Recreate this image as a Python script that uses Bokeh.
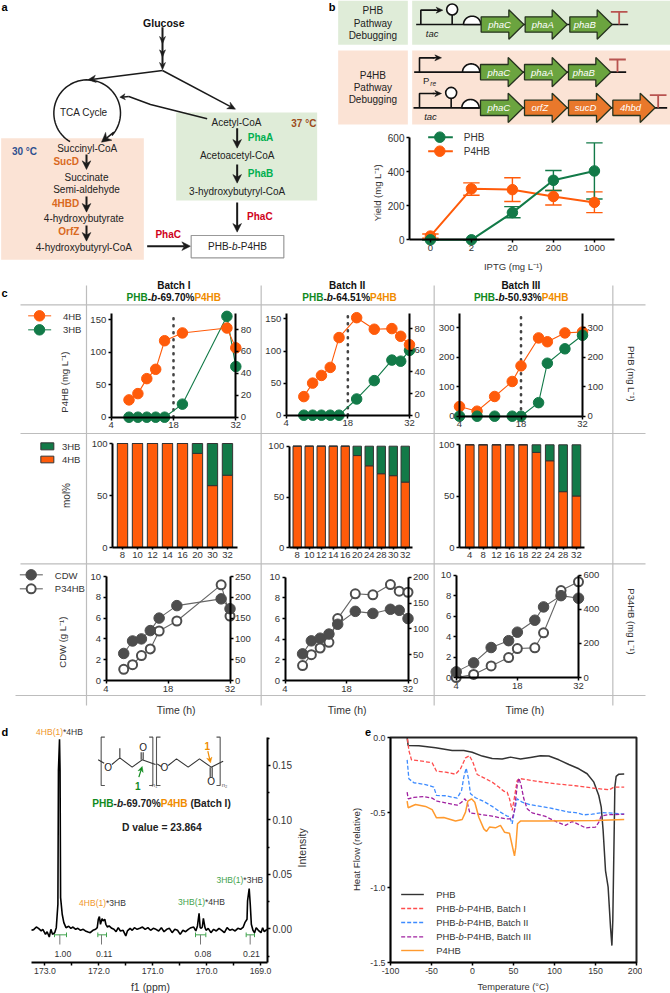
import numpy as np
from bokeh.plotting import figure
from bokeh.models import Range1d, LinearAxis, FixedTicker
from bokeh.core.properties import value
from bokeh.embed import file_html
from bokeh.resources import INLINE

FONT = "Liberation Sans"
ORANGE, GREEN = "#FF5B0A", "#127A48"
TXT_GREEN, TXT_ORANGE = "#118A1E", "#F08C00"

# ---------- panel b: yield vs IPTG ----------
iptg_labels = ["0", "2", "20", "200", "1000"]
phb_yield = [0, 0, 160, 350, 405]
phb_low = [0, 0, 130, 290, 240]
phb_high = [0, 0, 195, 408, 570]
p4hb_yield = [22, 300, 295, 255, 220]
p4hb_low = [10, 262, 225, 205, 160]
p4hb_high = [34, 335, 365, 290, 282]

# ---------- panel c: time courses ----------
b1_hours = [8, 10, 12, 14, 16, 20, 30, 32]
b1_4hb = [26.7, 36.4, 59.5, 73.9, 118, 130, 137.6, 107]
b1_3hb = [0, 0, 0, 0, 0, 11.9, 92, 46.2]
b1_mol4 = [100, 100, 100, 100, 100, 90.5, 59.5, 69.5]
b1_cdw = [2.6, 3.8, 4.0, 4.8, 6.0, 7.2, 7.85, 6.9]
b1_p34 = [27, 38, 60, 76, 119, 143, 230, 155]

b2_hours = [8, 10, 12, 14, 16, 20, 24, 28, 30, 32]
b2_4hb = [29, 50, 62, 74.5, 121, 152, 134, 135, 123, 110]
b2_3hb = [0, 0, 0, 0, 0, 15, 32, 51, 50, 60]
b2_mol4 = [100, 100, 100, 100, 100, 90.8, 80.7, 72.9, 71, 64.7]
b2_cdw = [2.58, 3.84, 4.1, 4.5, 5.45, 6.7, 6.5, 6.9, 6.8, 6.0]
b2_p34 = [29, 50, 63, 74, 120, 168, 166, 186, 173, 171]

b3_hours = [4, 8, 12, 16, 18, 22, 24, 28, 32]
b3_4hb = [33, 17, 67, 118, 171, 266, 253, 283, 286]
b3_3hb = [0, 0, 0, 0, 0, 46, 180, 229, 275]
b3_mol4 = [100, 100, 100, 100, 100, 92.6, 84.5, 54.5, 50.3]
b3_cdw = [0.55, 1.43, 2.93, 3.6, 4.43, 5.6, 6.9, 8.0, 7.75]
b3_p34 = [0, 18, 68, 117, 170, 174, 262, 510, 561]

# ---------- panel d: 13C NMR carbonyl region ----------
nmr_ppm = [173.25, 173.21, 173.16, 173.12, 173.07, 173.04, 172.99, 172.96, 172.92, 172.89, 172.86, 172.82, 172.79,
           172.76, 172.75, 172.73, 172.72, 172.71, 172.68, 172.65, 172.61, 172.56, 172.52, 172.48, 172.43, 172.39,
           172.34, 172.29, 172.25, 172.2, 172.16, 172.11, 172.06, 172.03, 172.01, 171.99, 171.97, 171.94, 171.92,
           171.89, 171.87, 171.84, 171.81, 171.76, 171.72, 171.68, 171.64, 171.6, 171.55, 171.5, 171.47, 171.42,
           171.38, 171.34, 171.29, 171.24, 171.19, 171.14, 171.09, 171.04, 170.99, 170.94, 170.89, 170.84, 170.79,
           170.74, 170.69, 170.64, 170.59, 170.54, 170.49, 170.44, 170.39, 170.34, 170.29, 170.24, 170.2, 170.17,
           170.14, 170.12, 170.1, 170.08, 170.06, 170.03, 170.01, 169.97, 169.92, 169.87, 169.82, 169.77, 169.72,
           169.67, 169.62, 169.57, 169.52, 169.47, 169.42, 169.37, 169.32, 169.29, 169.25, 169.24, 169.21, 169.19,
           169.17, 169.14, 169.11, 169.08, 169.04, 168.99, 168.96, 168.93, 168.88]
nmr_int = [-.0012, -.0006, .0018, .0006, -.0018, -.0003, -.0049, -.0025, -.0074, -.0003, -.0049, -.0034, .0012,
           .0227, .1454, .1739, .1454, .0288, .0135, .0058, .0012, .0025, .0006, .0018, -.0003, .0006,
           -.0012, -.0003, -.0018, -.0028, -.0034, -.0012, -.0003, .0012, .0089, .0113, .0043, .0095, .0074,
           .0089, .0043, .0018, .0028, .0006, -.0003, -.0025, .0012, -.0018, -.0012, -.0064, -.0018, .0006,
           -.0012, .0012, -.0003, .0006, .0018, -.0003, .0012, -.0012, .0006, -.0003, -.0018, .0012, -.0025,
           -.0003, .0006, -.0034, -.0003, -.0012, -.0049, -.0012, -.0025, -.0003, .0012, .0018, -.0018, .0028,
           .0144, .0012, .0006, .0018, .0098, .0012, -.0012, .0006, -.0034, -.0003, -.0018, .0006, -.0012,
           -.0034, .0012, -.0012, -.0003, -.0018, .0006, -.0003, .0018, .0058, .0089, .0258, .0371, .0227,
           .0043, -.0012, -.0034, .0012, -.0012, -.0034, .0012, -.0025, -.0003]

# ---------- panel e: DSC ----------
phb_t = [-79.7, -78.5, -65.4, -45, -24.8, -10.6, -0.4, 11.8, 24, 36.2, 46.3, 58.5, 70.7, 82.9, 93, 105.3, 117.5, 129.7,
         139.8, 148, 154, 157, 159.3, 162.2, 165.4, 168.3, 170, 171.1, 172.8, 173.6, 175.2, 178.5, 185]
phb_h = [0, -.051, -.053, -.067, -.085, -.085, -.096, -.122, -.138, -.142, -.129, -.142, -.131, -.12, -.122, -.147,
         -.178, -.207, -.24, -.296, -.385, -.463, -.619, -.886, -.997, -1.264, -1.387, -1.22, -.619, -.329, -.258,
         -.243, -.241]
b1_t = [-79.3, -77.6, -74.4, -61.4, -49.2, -43.9, -32.9, -20.7, -14.6, -8.5, -3.7, 0.4, 5.7, 13.8, 24, 32.1, 38.2, 42.3,
        45.1, 48.4, 51.2, 54.5, 57.3, 76.8, 101.2, 125.6, 150, 167, 172.4, 185]
b1_h = [-.007, -.085, -.147, -.156, -.167, -.223, -.229, -.243, -.207, -.134, -.12, -.162, -.245, -.267, -.296, -.329,
        -.356, -.363, -.407, -.485, -.396, -.285, -.272, -.289, -.307, -.32, -.338, -.347, -.329, -.329]
b2_t = [-79.7, -77.6, -71.5, -57.3, -47.2, -43.9, -32.9, -18.7, -13.4, -10.6, -7.7, -5.3, -2.4, 3.7, 13.8, 24, 34.1,
        42.3, 45.1, 48.4, 51.2, 54.5, 60.6, 70.7, 93.1, 117.5, 125.6, 135.8, 145.9, 158.1, 170.3, 185]
b2_h = [-.147, -.274, -.3, -.312, -.329, -.385, -.387, -.403, -.352, -.263, -.203, -.263, -.374, -.4, -.425, -.458,
        -.496, -.523, -.525, -.574, -.485, -.407, -.43, -.447, -.467, -.496, -.499, -.514, -.51, -.499, -.503, -.51]
b3_t = [-79.7, -78.5, -71.5, -59.3, -49.2, -43.1, -32.9, -18.7, -13.4, -9.3, -6.5, -3.3, 7.7, 24, 40.2, 48.4, 51.2, 54.5,
        56.5, 59.3, 62.6, 66.7, 72.8, 89, 103.3, 113.4, 121.5, 129.7, 137.8, 150, 154.1, 156.9, 164.2, 185]
b3_h = [-.363, -.407, -.398, -.392, -.403, -.423, -.434, -.45, -.43, -.407, -.43, -.501, -.51, -.523, -.541, -.541,
        -.485, -.318, -.269, -.318, -.407, -.474, -.501, -.525, -.563, -.585, -.559, -.579, -.601, -.596, -.563, -.523,
        -.514, -.51]
p4_t = [-79.7, -78.5, -69.5, -57.3, -49.2, -43.9, -35, -20.7, -12.6, -8.5, -5.7, -1.2, 2.8, 7.7, 13.8, 17.1, 20.7, 28,
        34.1, 39, 45.1, 48.4, 51.2, 52.8, 54.9, 58.5, 85, 117.5, 150, 185]
p4_h = [-.423, -.467, -.445, -.458, -.479, -.534, -.532, -.556, -.545, -.496, -.423, -.407, -.43, -.53, -.608, -.625,
        -.596, -.601, -.585, -.63, -.637, -.719, -.788, -.73, -.574, -.556, -.556, -.554, -.552, -.545]

# ---------- background canvas, coordinates = page px x 3 ----------
bg = figure(width=670, height=993, x_range=Range1d(0, 2010), y_range=Range1d(2979, 0), output_backend="svg",
            toolbar_location=None, title=None, min_border=0, x_axis_type=None, y_axis_type=None,
            outline_line_color=None, sizing_mode="fixed", styles={"position": "absolute", "left": "0px", "top": "0px"})
bg.grid.visible = False


def T(x, y, s, size=10, color="#222222", align="center", style="normal", angle=0):
    bg.text([x], [y], text=[s], text_font=value(FONT), text_font_size=f"{size}px", text_color=color,
            text_align=align, text_baseline="middle", text_font_style=style, angle=angle)


REG = {"P": .667, "H": .722, "B": .667, "-": .333, "b": .556, ",": .278, " ": .278, "a": .556, "t": .278, "c": .5,
       "h": .556, "I": .278, "(": .333, ")": .333, "*": .389, ".": .278}
BOLD = {"P": .667, "H": .722, "B": .722, "-": .333, "b": .611, " ": .278, "a": .556, "t": .333, "c": .556, "h": .611,
        "I": .278, "(": .333, ")": .333, ".": .278, "%": .889}


def runs(xc, y, parts, size):
    def w(s, st):
        tab = BOLD if "bold" in st else REG
        return sum(tab.get(c, .556) for c in s) * size * 3
    x = xc - sum(w(s, st) for s, c, st in parts) / 2
    for s, c, st in parts:
        if s.strip():
            T(x, y, s, size, c, "left", st)
        x += w(s, st)


def L(xs, ys, color="#1a1a1a", width=1.5, dash="solid"):
    bg.line(xs, ys, line_color=color, line_width=width, line_dash=dash)


def R(x0, y0, x1, y1, fill, line=None, width=1):
    bg.quad(left=[x0], right=[x1], top=[y0], bottom=[y1], fill_color=fill, line_color=line, line_width=width)


def A(x0, y0, x1, y1, hl=26, hw=13, width=2, color="#1a1a1a"):
    d = np.hypot(x1 - x0, y1 - y0)
    ux, uy = (x1 - x0) / d, (y1 - y0) / d
    bx, by = x1 - ux * hl, y1 - uy * hl
    nx, ny = bx + ux * hl * .3, by + uy * hl * .3
    L([x0, nx], [y0, ny], color, width)
    bg.patch([x1, bx - uy * hw, nx, bx + uy * hw], [y1, by + ux * hw, ny, by - ux * hw], fill_color=color,
             line_color=color, line_width=.5)


# panel a
R(527, 336, 950, 600, "#DFECD8")
R(2, 413, 430, 778, "#FBE3D5")
T(3, 20, "a", 11, "#000000", "left", "bold")
T(490, 66, "Glucose", 10.5, "#111111", style="bold")
A(486, 80, 486, 130, 22, 9)
A(486, 120, 486, 170, 22, 9)
A(486, 160, 486, 208, 22, 9)
A(486, 210, 262, 238, 24, 11, 1.5)
A(486, 210, 705, 326, 24, 11, 1.5)
L([620, 450, 385], [355, 312, 288])
A(385, 288, 358, 290, 16, 9, 1.5)
th = np.deg2rad(np.linspace(121, 402, 60))
L(260 + 100 * np.cos(th), 338 + 100 * np.sin(th))
A(340, 395, 303, 425, 28, 15, 1.5)
T(250, 336, "TCA Cycle")
for x, y, s in [(260, 444, "Succinyl-CoA"), (258, 530, "Succinate"), (258, 567, "Semi-aldehyde"),
                (250, 654, "4-hydroxybutyrate"), (250, 740, "4-hydroxybutyryl-CoA"), (708, 365, "Acetyl-CoA"),
                (710, 464, "Acetoacetyl-CoA"), (710, 572, "3-hydroxybutyryl-CoA")]:
    T(x, y, s)
for x, y, s in [(197, 484, "SucD"), (195, 608, "4HBD"), (205, 693, "OrfZ")]:
    T(x, y, s, 10, "#D9691E", style="bold")
for x, y, s in [(780, 412, "PhaA"), (780, 520, "PhaB")]:
    T(x, y, s, 10, "#00B050", style="bold")
for x, y in [(503, 701), (778, 648)]:
    T(x, y, "PhaC", 10, "#D0021B", style="bold")
T(910, 370, "37 °C", 10, "#9C4A1A", style="bold")
T(72, 452, "30 °C", 10, "#2F4F8F", style="bold")
for x, y0, y1 in [(258, 462, 507), (258, 588, 635), (258, 675, 722), (710, 383, 443), (710, 492, 548), (710, 606, 695)]:
    A(x, y0, x, y1)
A(440, 737, 570, 737)
R(572, 705, 850, 772, "#FFFFFF", "#999999", 1.2)
runs(711, 739, [("PHB-", "#222222", "normal"), ("b", "#222222", "italic"), ("-P4HB", "#222222", "normal")], 10)

# panel b schematic
OX = 1005
T(985, 20, "b", 11, "#000000", "left", "bold")
R(OX + 8, 0, OX + 217, 133, "#DFECD8")
R(OX + 230, 0, 2010, 133, "#DFECD8")
R(OX + 8, 150, OX + 217, 372, "#FBE3D5")
R(OX + 230, 150, 2010, 372, "#FBE3D5")
for y, s in [(30, "PHB"), (68, "Pathway"), (105, "Debugging"), (225, "P4HB"), (262, "Pathway"), (298, "Debugging")]:
    T(OX + 112, y, s)


def gene(x0, x1, yc, fill, s, xl):
    xs = np.array([x0, x1 - 45, x1 - 45, x1, x1 - 45, x1 - 45, x0]) + OX
    ys = np.array([-23, -23, -44, 0, 44, 23, 23]) + yc
    bg.patch(xs, ys, fill_color=fill, line_color="#26331f", line_width=1.3)
    T(OX + xl, yc, s, 9.5, "#FFFFFF", style="italic")


def construct(y, xa, xb, xp, xrbs, xt, genes, lolly=None):
    L([OX + xa, OX + xb], [y, y], "#111111", 1.6)
    L([OX + xp, OX + xp, OX + xp + 45], [y, y - 43, y - 43], "#111111", 1.6)
    A(OX + xp + 40, y - 43, OX + xp + 66, y - 43, 20, 9, 1.5, "#111111")
    if lolly:
        L([OX + lolly, OX + lolly], [y, y - 30], "#111111", 1.6)
        bg.scatter([OX + lolly], [y - 45], size=11, fill_color="#FFFFFF", line_color="#111111", line_width=1.6)
    a = np.linspace(np.pi, 2 * np.pi, 30)
    bg.patch(OX + xrbs + 26 * np.cos(a), y + 25 * np.sin(a), fill_color="#FFFFFF", line_color="#111111", line_width=1.6)
    for g in genes:
        gene(*g[:2], y, g[2], g[3], g[4])
    L([OX + xt, OX + xt], [y, y - 38], "#B85450", 1.8)
    L([OX + xt - 25, OX + xt + 25], [y - 38, y - 38], "#B85450", 1.8)


G, O = "#6BA43F", "#E9782B"
construct(72, 242, 878, 256, 410, 851, [(437, 565, G, "phaC", 492), (569, 695, G, "phaA", 622), (703, 830, G, "phaB", 748)], 350)
construct(215, 236, 872, 252, 407, 846, [(435, 563, G, "phaC", 490), (567, 695, G, "phaA", 620), (699, 826, G, "phaB", 745)])
construct(322, 234, 995, 252, 405, 968, [(435, 563, G, "phaC", 490), (567, 695, O, "orfZ", 613), (699, 828, O, "sucD", 750), (832, 959, O, "4hbd", 885)], 347)
T(OX + 290, 98, "tac", 9.5, "#222222", style="italic")
T(OX + 285, 348, "tac", 9.5, "#222222", style="italic")
T(OX + 272, 240, "P", 9.5)
T(OX + 293, 250, "re", 6.5, "#222222", style="italic")

# panel b legend and labels
L([OX + 278, OX + 352], [410, 410], GREEN, 2)
L([OX + 278, OX + 352], [452, 452], ORANGE, 2)
bg.scatter([OX + 313], [410], size=10.5, fill_color=GREEN, line_color=GREEN)
bg.scatter([OX + 313], [452], size=10.5, fill_color=ORANGE, line_color=ORANGE)
T(OX + 385, 410, "PHB", 10, "#333333", "left")
T(OX + 385, 452, "P4HB", 10, "#333333", "left")
T(OX + 533, 798, "IPTG (mg L⁻¹)", 9.5, "#333333")
T(OX + 125, 577, "Yield (mg L⁻¹)", 9.5, "#333333", angle=np.pi / 2)

# panel c grid and labels
GR = "#BDBDBD"
T(3, 876, "c", 11, "#000000", "left", "bold")
for y, x0, x1 in [(913, 60, 1935), (1299, 60, 1935), (1690, 60, 1935), (2085, 45, 1935)]:
    L([x0, x1], [y, y], GR, 1.2)
for x in [258, 782, 1301, 1837]:
    L([x, x], [855, 2115], GR, 1.2)
for xc, s, xc2, pct in [(520, "Batch I", 520, "69.70%"), (1040, "Batch II", 1047, "64.51%"), (1561, "Batch III", 1562, "50.93%")]:
    T(xc, 855, s, 10, "#111111", style="bold")
    runs(xc2, 892, [("PHB", TXT_GREEN, "bold"), ("-", "#111111", "bold"), ("b", "#111111", "bold italic"),
                    ("-" + pct, "#111111", "bold"), ("P4HB", TXT_ORANGE, "bold")], 10)
L([83, 152], [946, 946], ORANGE, 1)
L([83, 152], [988, 988], GREEN, 1)
bg.scatter([117], [946], size=10.5, fill_color=ORANGE, line_color=ORANGE)
bg.scatter([117], [988], size=10.5, fill_color=GREEN, line_color=GREEN)
T(215, 948, "4HB", 9.5, "#333333")
T(215, 988, "3HB", 9.5, "#333333")
T(192, 1145, "P4HB (mg L⁻¹)", 9.5, "#333333", angle=np.pi / 2)
T(1893, 1120, "PHB (mg L⁻¹)", 9.5, "#333333", angle=-np.pi / 2)
R(121, 1327, 160, 1348, GREEN, "#333333", 1)
R(121, 1367, 160, 1387, ORANGE, "#333333", 1)
T(212, 1338, "3HB", 9.5, "#333333")
T(212, 1376, "4HB", 9.5, "#333333")
T(197, 1485, "mol%", 10, "#333333", angle=np.pi / 2)
L([58, 127], [1723, 1723], "#555555", 1)
L([58, 127], [1765, 1765], "#555555", 1)
bg.scatter([92], [1723], size=10.5, fill_color="#4D4D4D", line_color="#4D4D4D")
bg.scatter([92], [1765], size=9, fill_color="#FFFFFF", line_color="#4D4D4D", line_width=2)
T(163, 1725, "CDW", 9.5, "#333333", "left")
T(163, 1765, "P34HB", 9.5, "#333333", "left")
T(187, 1925, "CDW (g L⁻¹)", 9.5, "#333333", angle=np.pi / 2)
T(1893, 1863, "P34HB (mg L⁻¹)", 9.5, "#333333", angle=-np.pi / 2)
for x in [527, 1040, 1573]:
    T(x, 2128, "Time (h)", 10.5, "#333333")

# panel d annotation
Y7 = 2010
T(3, Y7 + 185, "d", 11, "#000000", "left", "bold")
DO, DG = "#F0962A", "#3FA34D"
for xc, y, c, a, b in [(177, 183, DO, "4HB(1)", "*4HB"), (306, 698, DO, "4HB(1)", "*3HB"),
                       (603, 695, DG, "3HB(1)", "*4HB"), (718, 627, DG, "3HB(1)", "*3HB")]:
    runs(xc, Y7 + y, [(a, c, "normal"), (b, "#333333", "normal")], 8.5)
for xs in [[313, 302, 302, 313], [446, 457, 457, 446], [480, 468, 468, 480], [648, 659, 659, 648]]:
    L(xs, [Y7 + v for v in [200, 200, 345, 345]], "#555555", 1.1)
for xs, ys in [([293, 311], [268, 278]), ([334, 358, 395, 425, 465], [282, 262, 290, 268, 282]), ([358, 358], [262, 233]),
               ([422, 422], [268, 245]), ([428, 428], [268, 245]), ([470, 482], [280, 288]),
               ([503, 528, 563, 597, 632, 668], [285, 265, 290, 265, 290, 272]), ([629, 629], [290, 320]), ([635, 635], [290, 320])]:
    L(xs, [Y7 + v for v in ys], "#333333", 1.1)
for x, y in [(323, 290), (428, 230), (492, 292), (632, 333)]:
    T(x, Y7 + y, "O", 10, "#222222")
T(462, Y7 + 342, "n₁", 6, "#555555")
T(672, Y7 + 342, "n₂", 6, "#555555")
A(415, Y7 + 320, 425, Y7 + 288, 16, 8, 1.2, "#118A1E")
T(412, Y7 + 345, "1", 10, "#118A1E", style="bold")
A(622, Y7 + 242, 630, Y7 + 277, 16, 8, 1.2, "#F08C00")
T(620, Y7 + 225, "1", 10, "#F08C00", style="bold")
runs(483, Y7 + 398, [("PHB", TXT_GREEN, "bold"), ("-", "#222222", "bold"), ("b", "#222222", "bold italic"),
                     ("-69.70%", "#222222", "bold"), ("P4HB", TXT_ORANGE, "bold"), (" ", "#222222", "bold"),
                     ("(Batch I)", "#222222", "bold")], 10.1)
T(484, Y7 + 470, "D value = 23.864", 10.3, "#222222", style="bold")
T(905, Y7 + 532, "Intensity", 10.5, "#333333", angle=np.pi / 2)
T(450, Y7 + 950, "f1 (ppm)", 10.5, "#333333")
for x0, x1, xs, xl, s in [(162, 198, 178, 187, "1.00"), (292, 318, 303, 311, "0.11"), (585, 616, 600, 607, "0.08"), (737, 762, 749, 753, "0.21")]:
    L([x0, x1], [Y7 + 793, Y7 + 793], "#3FA34D", 1)
    for xx in (x0, x1):
        L([xx, xx], [Y7 + 786, Y7 + 800], "#3FA34D", 1)
    L([xs, xs], [Y7 + 793, Y7 + 822], "#777777", 1)
    T(xl, Y7 + 850, s, 8.7, "#333333")

# panel e labels
T(OX + 98, Y7 + 183, "e", 11, "#000000", "center", "bold")
T(OX + 533, Y7 + 950, "Temperature (°C)", 9.3, "#333333")
T(OX + 64, Y7 + 537, "Heat Flow (relative)", 9.6, "#333333", angle=np.pi / 2)
for y, c, dash in [(672, "#333333", "solid"), (714, "#FF4D4D", "4 2"), (756, "#3D8BFF", "4 2"),
                   (799, "#A020A0", "4 2"), (840, "#FF9A2E", "solid")]:
    L([OX + 197, OX + 265], [Y7 + y, Y7 + y], c, 1.4, dash)
T(OX + 302, Y7 + 672, "PHB", 9.4, "#333333", "left")
T(OX + 302, Y7 + 840, "P4HB", 9.4, "#333333", "left")
for y, s in [(714, "Batch I"), (756, "Batch II"), (799, "Batch III")]:
    x = OX + 302
    for part, st in [("PHB-", "normal"), ("b", "italic"), ("-P4HB, " + s, "normal")]:
        T(x, Y7 + y, part, 9.4, "#333333", "left", st)
        x += sum(REG.get(c, .556) for c in part) * 9.4 * 3

panels = [bg]


# ---------- helper for a positioned data panel ----------
def panel(x0, x1, ytop, ybot, xa, xb, ya, yb, pad=(30, 30, 8, 16), ml=42, mr=42, mb=28, mt=4):
    left, right = int(round(x0 - pad[0])), int(round(x1 + pad[1]))
    top, bottom = int(round(ytop - pad[2])), int(round(ybot + pad[3]))
    sx = (xb - xa) / (x1 - x0)
    sy = (yb - ya) / (ybot - ytop)
    xr = Range1d(xa + (left - x0) * sx, xa + (right - x0) * sx)
    yr = Range1d(ya + (ybot - bottom) * sy, ya + (ybot - top) * sy)
    p = figure(width=right - left + ml + mr, height=bottom - top + mt + mb, x_range=xr, y_range=yr, title=None,
               toolbar_location=None, output_backend="svg", min_border_left=ml, min_border_right=mr,
               min_border_top=mt, min_border_bottom=mb, background_fill_color=None, border_fill_color=None,
               outline_line_color=None, x_axis_type=None, y_axis_type=None, sizing_mode="fixed",
               styles={"position": "absolute", "left": f"{left - ml}px", "top": f"{top - mt}px"})
    p.grid.visible = False
    return p


def style(ax, size=9.5, width=2, tick=3):
    ax.major_label_text_font = FONT
    ax.major_label_text_font_size = f"{size}px"
    ax.major_label_text_color = "#333333"
    ax.major_label_standoff = 2
    ax.axis_line_color = "#000000"
    ax.axis_line_width = width
    ax.major_tick_line_color = "#000000"
    ax.major_tick_line_width = width if width < 1.6 else 1.5
    ax.major_tick_out = tick
    ax.major_tick_in = 0
    ax.minor_tick_line_color = None
    return ax


def add_axis(p, side, ticks, loc, bounds, labels=None, rng=None, minor=None, **kw):
    args = dict(ticker=FixedTicker(ticks=ticks, minor_ticks=minor or []), fixed_location=loc, bounds=bounds)
    if labels:
        args["major_label_overrides"] = labels
    if rng:
        args["y_range_name"] = rng
    ax = style(LinearAxis(**args), **kw)
    p.add_layout(ax, side)
    return ax


# panel b chart
pb = panel(409, 614, 137.3, 239.3, -0.51, 4.49, 0, 600, pad=(30, 20, 10, 16), ml=34, mr=6)
ix = list(range(5))
for hi, lo, col in [(p4hb_high, p4hb_low, ORANGE), (phb_high, phb_low, GREEN)]:
    pb.segment(ix, lo, ix, hi, line_color=col, line_width=1.4)
    pb.segment([i - .2 for i in ix], hi, [i + .2 for i in ix], hi, line_color=col, line_width=1.4)
    pb.segment([i - .2 for i in ix], lo, [i + .2 for i in ix], lo, line_color=col, line_width=1.4)
pb.line(ix, p4hb_yield, line_color=ORANGE, line_width=2)
pb.line(ix, phb_yield, line_color=GREEN, line_width=2)
pb.scatter(ix, p4hb_yield, size=10.5, fill_color=ORANGE, line_color=ORANGE)
pb.scatter(ix, phb_yield, size=10.5, fill_color=GREEN, line_color=GREEN)
add_axis(pb, "left", [0, 200, 400, 600], -0.51, (0, 600), size=10)
add_axis(pb, "below", ix, 0, (-0.51, 4.49), {i: s for i, s in enumerate(iptg_labels)}, size=9.5)
panels.append(pb)

# panel c top row
rows1 = [
    (110.7, 235.3, 313, 416.7, 160, 94.6, [0, 50, 100, 150], [0, 20, 40, 60, 80], b1_hours, b1_4hb, b1_3hb, False),
    (285.7, 409, 312.7, 414.7, 159, 94.4, [0, 50, 100, 150], [0, 20, 40, 60, 80], b2_hours, b2_4hb, b2_3hb, False),
    (459, 582, 312.7, 415.7, 350, 350, [0, 100, 200, 300], [0, 100, 200, 300], b3_hours, b3_4hb, b3_3hb, True),
]
for x0, x1, yt, yb, ml_, mr_, lt, rt, hrs, v4, v3, green_top in rows1:
    p = panel(x0, x1, yt, yb, 4, 32, 0, ml_)
    p.extra_y_ranges = {"r": Range1d(p.y_range.start * mr_ / ml_, p.y_range.end * mr_ / ml_)}
    p.segment([18], [0], [18], [ml_], line_color="#444444", line_width=2.6, line_dash="1 6", line_cap="round")
    series = [(v4, ORANGE, "default"), (v3, GREEN, "r")]
    if not green_top:
        series.reverse()
    for vals, col, rn in series:
        p.line(hrs, vals, line_color=col, line_width=1.1, y_range_name=rn)
        p.scatter(hrs, vals, size=10.5, fill_color=col, line_color=col, y_range_name=rn)
    add_axis(p, "left", lt, 4, (0, ml_))
    add_axis(p, "right", rt, 32, (0, mr_), rng="r")
    add_axis(p, "below", [4, 18, 32], 0, (4, 32))
    panels.append(p)

# panel c middle row
rows2 = [
    (112, 236.7, 443, 547, -.667, 7.65, .69, b1_hours, b1_mol4),
    (288.7, 412.3, 445.7, 547.3, -.667, 9.63, .7, b2_hours, b2_mol4),
    (459, 584.3, 444.3, 547.3, -.77, 8.63, .65, b3_hours, b3_mol4),
]
for x0, x1, yt, yb, xa, xb, bw, hrs, m4 in rows2:
    p = panel(x0, x1, yt, yb, xa, xb, 0, 100, pad=(30, 12, 5, 16))
    idx = list(range(len(hrs)))
    p.vbar(idx, bw, m4, 0, fill_color=ORANGE, line_color="#333333", line_width=1)
    p.vbar(idx, bw, [100] * len(hrs), m4, fill_color=GREEN, line_color="#333333", line_width=1)
    add_axis(p, "left", [0, 50, 100], xa, (0, 100))
    add_axis(p, "below", idx, 0, (xa, xb), {i: str(h) for i, h in enumerate(hrs)}, tick=2)
    panels.append(p)

# panel c bottom row
rows3 = [
    (105.5, 229.5, 576, 680, 250, [0, 50, 100, 150, 200, 250], b1_hours, b1_cdw, b1_p34),
    (284.5, 407.5, 576.8, 680, 200, [0, 50, 100, 150, 200], b2_hours, b2_cdw, b2_p34),
    (455.7, 578, 574.7, 677, 600, [0, 200, 400, 600], b3_hours, b3_cdw, b3_p34),
]
for x0, x1, yt, yb, rmax, rt, hrs, cdw, p34 in rows3:
    p = panel(x0, x1, yt, yb, 4, 32, 0, 10)
    p.extra_y_ranges = {"r": Range1d(p.y_range.start * rmax / 10, p.y_range.end * rmax / 10)}
    p.line(hrs, p34, line_color="#666666", line_width=1.1, y_range_name="r")
    p.scatter(hrs, p34, size=9, fill_color="#FFFFFF", line_color="#4D4D4D", line_width=2, y_range_name="r")
    p.line(hrs, cdw, line_color="#666666", line_width=1.1)
    p.scatter(hrs, cdw, size=10.5, fill_color="#4D4D4D", line_color="#4D4D4D")
    add_axis(p, "left", [0, 2, 4, 6, 8, 10], 4, (0, 10))
    add_axis(p, "right", rt, 32, (0, rmax), rng="r")
    add_axis(p, "below", [4, 18, 32], 0, (4, 32))
    panels.append(p)

# panel d
pd_ = panel(31, 267, 736.7, 962.3, 173.25, 168.87, -.031, .1758, pad=(3, 32, 3, 15), ml=2, mr=38, mb=15)
pd_.line(nmr_ppm, nmr_int, line_color="#000000", line_width=1.6)
xt = [173 - .5 * i for i in range(9)]
add_axis(pd_, "below", xt, -.031, (168.87, 173.25), {t: (f"{t:.1f}" if i % 2 == 0 else "") for i, t in enumerate(xt)}, size=8.7)
ax = add_axis(pd_, "right", [0, .05, .10, .15], 168.87, (-.031, .1758), {0: "0.00", .05: "0.05", .10: "0.10", .15: "0.15"},
              minor=[-.025, .025, .075, .125, .175], size=10)
ax.minor_tick_line_color = "#000000"
ax.minor_tick_line_width = 1.5
ax.minor_tick_out = 2
ax.minor_tick_in = 0
panels.append(pd_)

# panel e
pe = panel(390, 636, 737.3, 962, -100, 200, -1.5, 0, pad=(0, 0, 0, 0), ml=26, mr=6, mb=20)
pe.line(phb_t, phb_h, line_color="#333333", line_width=1.5)
pe.line(b1_t, b1_h, line_color="#FF4D4D", line_width=1.3, line_dash="4 2")
pe.line(b2_t, b2_h, line_color="#3D8BFF", line_width=1.3, line_dash="4 2")
pe.line(b3_t, b3_h, line_color="#A020A0", line_width=1.3, line_dash="4 2")
pe.line(p4_t, p4_h, line_color="#FF9A2E", line_width=1.5)
xt = [-100, -50, 0, 50, 100, 150, 200]
yt = [0, -.5, -1, -1.5]
pe.add_layout(style(LinearAxis(ticker=FixedTicker(ticks=xt), major_label_overrides={t: str(t) for t in xt}), size=8.8, width=1.5), "below")
pe.add_layout(style(LinearAxis(ticker=FixedTicker(ticks=yt), major_label_overrides={0: "0.0", -.5: "-0.5", -1: "-1.0", -1.5: "-1.5"}), size=8.8, width=1.5), "left")
pe.outline_line_color = "#222222"
pe.outline_line_width = 2
panels.append(pe)

open("out.html", "w").write(file_html(panels, INLINE))
